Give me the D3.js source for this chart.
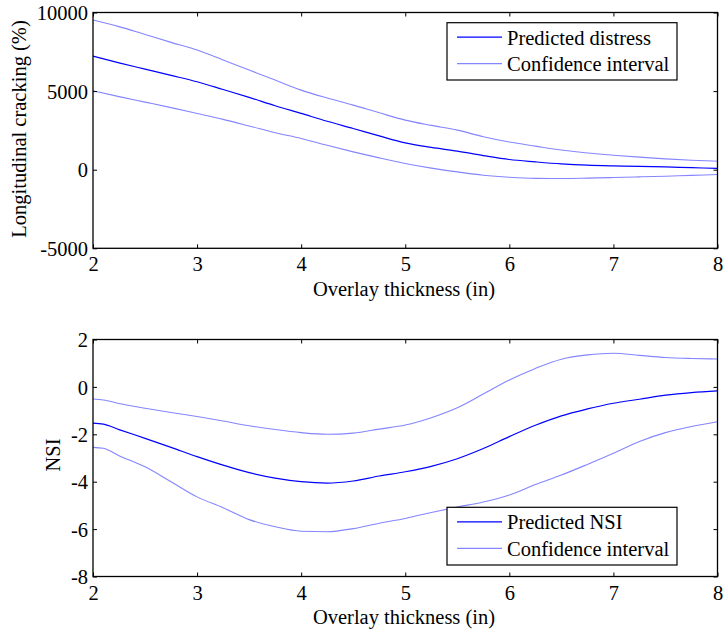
<!DOCTYPE html>
<html><head><meta charset="utf-8">
<script src="https://cdn.jsdelivr.net/npm/d3@7/dist/d3.min.js"></script>
<style>
body{margin:0;background:#fff;}
svg{display:block;}
</style></head><body>
<svg id="chart" width="725" height="631"></svg>
<script>
// ---- Top panel data: Longitudinal cracking (%) vs overlay thickness (in)
const xTop = [2,2.25,2.5,2.75,3,3.25,3.5,3.75,4,4.25,4.5,4.75,5,5.25,5.5,5.75,6,6.25,6.5,6.75,7,7.25,7.5,7.75,8];
const crackPred  = [7229,6800,6400,6000,5592,5100,4600,4070,3579,3080,2620,2150,1707,1420,1180,900,650,500,370,285,240,210,178,130,80];
const crackUpper = [9522,9100,8600,8100,7611,6980,6340,5700,5063,4560,4108,3620,3153,2820,2516,2100,1760,1500,1250,1060,923,800,688,600,540];
const crackLower = [5020,4650,4300,3950,3579,3200,2780,2350,1987,1550,1134,750,395,100,-140,-350,-480,-550,-560,-535,-497,-455,-414,-360,-306];

// ---- Bottom panel data: NSI vs overlay thickness (in)
const xBot = [2,2.1,2.25,2.5,2.75,3,3.25,3.5,3.75,4,4.25,4.5,4.75,5,5.25,5.5,5.75,6,6.25,6.5,6.75,7,7.25,7.5,7.75,8];
const nsiPred  = [-1.53,-1.57,-1.8,-2.17,-2.55,-2.94,-3.3,-3.62,-3.85,-4.0,-4.06,-3.97,-3.76,-3.58,-3.35,-3.03,-2.6,-2.1,-1.62,-1.22,-0.93,-0.69,-0.52,-0.35,-0.24,-0.17];
const nsiUpper = [-0.51,-0.55,-0.7,-0.9,-1.08,-1.25,-1.44,-1.64,-1.8,-1.93,-2.0,-1.95,-1.78,-1.61,-1.3,-0.88,-0.3,0.29,0.78,1.17,1.35,1.42,1.33,1.24,1.2,1.18];
const nsiLower = [-2.55,-2.59,-2.9,-3.37,-4.0,-4.64,-5.1,-5.6,-5.9,-6.09,-6.11,-5.98,-5.75,-5.55,-5.3,-5.07,-4.86,-4.56,-4.12,-3.72,-3.27,-2.8,-2.3,-1.93,-1.67,-1.47];

// ---- Ticks and labels
const xTicks = [2,3,4,5,6,7,8];
const yTicksTop = [-5000,0,5000,10000];
const yTicksBot = [-8,-6,-4,-2,0,2];
const xLabel = "Overlay thickness (in)";
const yLabelTop = "Longitudinal cracking (%)";
const yLabelBot = "NSI";
const legendTop = ["Predicted distress","Confidence interval"];
const legendBot = ["Predicted NSI","Confidence interval"];

const predColor = "#0000ff";
const ciColor = "#8585ff";
const FS = "20.5px";
const FF = '"Liberation Serif"';

const svg = d3.select("#chart");
const fmt = d => String(d);

function txt(sel){
  return sel.attr("font-family","Liberation Serif").attr("font-size",20.5)
    .style("font-family",FF).style("font-size",FS).attr("fill","#000");
}

function panel(cfg){
  const g = svg.append("g");
  const x = d3.scaleLinear().domain([2,8]).range([93,717.5]);
  const y = d3.scaleLinear().domain(cfg.yDomain).range([cfg.bottom, cfg.top]);

  const line = (ys) => d3.line().curve(d3.curveMonotoneX).x((d,i)=>x(cfg.xs[i])).y(d=>y(d))(ys);
  g.append("path").attr("d", line(cfg.upper)).attr("fill","none").attr("stroke",ciColor).attr("stroke-width",1.1);
  g.append("path").attr("d", line(cfg.lower)).attr("fill","none").attr("stroke",ciColor).attr("stroke-width",1.1);
  g.append("path").attr("d", line(cfg.pred)).attr("fill","none").attr("stroke",predColor).attr("stroke-width",1.2);

  const ax = (gen, tr) => {
    const a = g.append("g").attr("transform", tr).call(gen);
    a.attr("font-family", "Liberation Serif").attr("font-size", 20.5);
    a.select(".domain").remove();
    a.selectAll("line").attr("stroke","#000").attr("stroke-width",1);
    txt(a.selectAll("text"));
    return a;
  };
  const bx = ax(d3.axisBottom(x).tickValues(xTicks).tickSizeInner(-4).tickSizeOuter(0).tickPadding(0).tickFormat(fmt), `translate(0,${cfg.bottom})`);
  bx.selectAll("text").attr("y", 23).attr("dy", null);
  ax(d3.axisTop(x).tickValues(xTicks).tickSizeInner(-4).tickSizeOuter(0).tickFormat(""), `translate(0,${cfg.top})`);
  const ly = ax(d3.axisLeft(y).tickValues(cfg.yTicks).tickSizeInner(-4).tickSizeOuter(0).tickPadding(0).tickFormat(fmt), `translate(93,0)`);
  ly.selectAll("text").attr("x", -5).attr("dy","0.35em");
  ax(d3.axisRight(y).tickValues(cfg.yTicks).tickSizeInner(-4).tickSizeOuter(0).tickFormat(""), `translate(717.5,0)`);

  g.append("rect").attr("x",93).attr("y",cfg.top).attr("width",717.5-93).attr("height",cfg.bottom-cfg.top)
    .attr("fill","none").attr("stroke","#000").attr("stroke-width",1.3);

  txt(g.append("text").attr("x",404).attr("y",cfg.bottom+47.5).attr("text-anchor","middle")).text(xLabel);
  txt(g.append("text").attr("transform",`translate(${cfg.yLabelX},${cfg.yLabelY}) rotate(-90)`).attr("text-anchor","middle")).text(cfg.yLabel);

  const L = cfg.legend;
  g.append("rect").attr("x",447).attr("y",L.top).attr("width",230).attr("height",L.h).attr("fill","#fff").attr("stroke","#000").attr("stroke-width",1.2);
  const cols = [predColor, ciColor];
  cfg.legendText.forEach((t,i)=>{
    const ly0 = L.top + 14.5 + i*26.5;
    g.append("line").attr("x1",457).attr("x2",502).attr("y1",ly0).attr("y2",ly0).attr("stroke",cols[i]).attr("stroke-width",1.2);
    txt(g.append("text").attr("x",507).attr("y",ly0+7.5)).text(t);
  });
}

panel({xs:xTop, pred:crackPred, upper:crackUpper, lower:crackLower, yDomain:[-5000,10000], yTicks:yTicksTop,
  top:12.5, bottom:248.3, yLabel:yLabelTop, yLabelX:26, yLabelY:129, legendText:legendTop, legend:{top:22.7,h:57.3}});
panel({xs:xBot, pred:nsiPred, upper:nsiUpper, lower:nsiLower, yDomain:[-8,2], yTicks:yTicksBot,
  top:339.5, bottom:576.5, yLabel:yLabelBot, yLabelX:60, yLabelY:455, legendText:legendBot, legend:{top:507.3,h:57.7}});
</script>
</body></html>
